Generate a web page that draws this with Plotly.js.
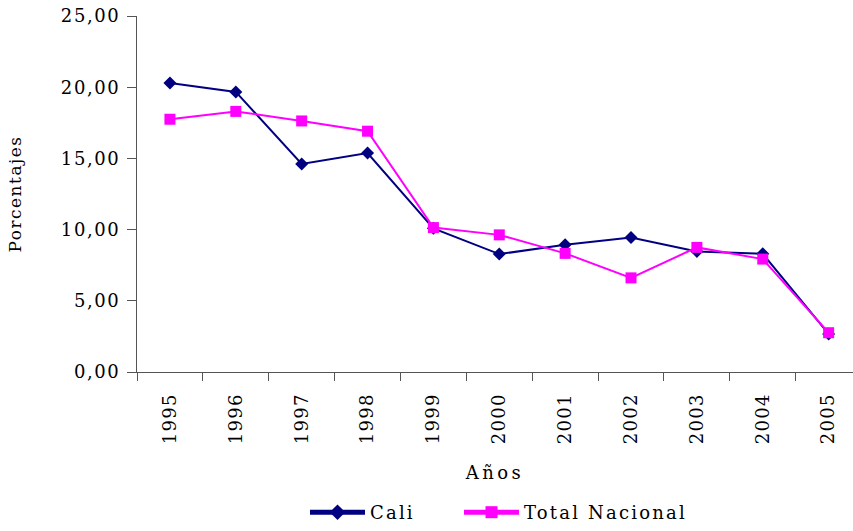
<!DOCTYPE html>
<html>
<head>
<meta charset="utf-8">
<script src="https://cdn.plot.ly/plotly-3.0.1.min.js"></script>
<style>
html,body{margin:0;padding:0;background:#fff;}
#chart{width:853px;height:531px;}
#chart .ytick text{letter-spacing:1.6px;}
#chart .xtick text{letter-spacing:1.3px;}
#chart .legendtext, #chart g.legend text, #chart g.legend2 text{letter-spacing:2.2px !important;}
#chart .ytitle{letter-spacing:1.5px;}
#chart .xtitle{letter-spacing:3.5px;}
</style>
</head>
<body>
<div id="chart"></div>
<script>
const years = ["1995","1996","1997","1998","1999","2000","2001","2002","2003","2004","2005"];
const cali = [20.30, 19.67, 14.61, 15.38, 10.09, 8.28, 8.93, 9.44, 8.47, 8.30, 2.67];
const totalNacional = [17.75, 18.30, 17.63, 16.91, 10.14, 9.63, 8.33, 6.61, 8.75, 7.93, 2.76];
const yTicks = [0, 5, 10, 15, 20, 25];

const fontFam = "DejaVu Serif, serif";

const traces = [
  {
    x: years, y: cali, name: "Cali", type: "scatter", mode: "lines+markers",
    legend: "legend",
    line: {color: "#000080", width: 2},
    marker: {symbol: "diamond", size: 10, color: "#000080"}
  },
  {
    x: years, y: totalNacional, name: "Total Nacional", type: "scatter", mode: "lines+markers",
    legend: "legend2",
    line: {color: "#FF00FF", width: 2},
    marker: {symbol: "square", size: 11, color: "#FF00FF"}
  }
];

const legendBase = {
  orientation: "h", xanchor: "left", y: -0.395, yanchor: "middle",
  font: {family: fontFam, size: 18, color: "#000"},
  itemwidth: 55,
  itemsizing: "constant",
  bgcolor: "rgba(0,0,0,0)"
};

const layout = {
  width: 853, height: 531,
  margin: {l: 137, r: 0, t: 16, b: 156},
  paper_bgcolor: "#fff", plot_bgcolor: "#fff",
  separators: ",.",
  font: {family: fontFam, size: 17, color: "#000"},
  showlegend: true,
  legend: Object.assign({}, legendBase, {x: (305 - 137) / 716, entrywidth: 70}),
  legend2: Object.assign({}, legendBase, {x: (459 - 137) / 716, entrywidth: 185}),
  xaxis: {
    type: "category",
    range: [-0.5, 10.37],
    showline: true, linecolor: "#555", linewidth: 1,
    ticks: "outside", ticklen: 8, tickcolor: "#555", tickson: "boundaries",
    tickangle: -90,
    showgrid: false, zeroline: false,
    tickfont: {family: fontFam, size: 18},
    ticklabelstandoff: 13,
    title: {text: "Años", font: {family: fontFam, size: 18}, standoff: 28}
  },
  yaxis: {
    range: [0, 25],
    tickvals: yTicks, tickformat: ".2f",
    showline: true, linecolor: "#555", linewidth: 1,
    ticks: "outside", ticklen: 9, tickcolor: "#555",
    showgrid: false, zeroline: false,
    tickfont: {family: fontFam, size: 18},
    ticklabelstandoff: 3,
    title: {text: "Porcentajes", font: {family: fontFam, size: 17}, standoff: 42}
  }
};

Plotly.newPlot("chart", traces, layout, {displayModeBar: false, staticPlot: true});
</script>
</body>
</html>
